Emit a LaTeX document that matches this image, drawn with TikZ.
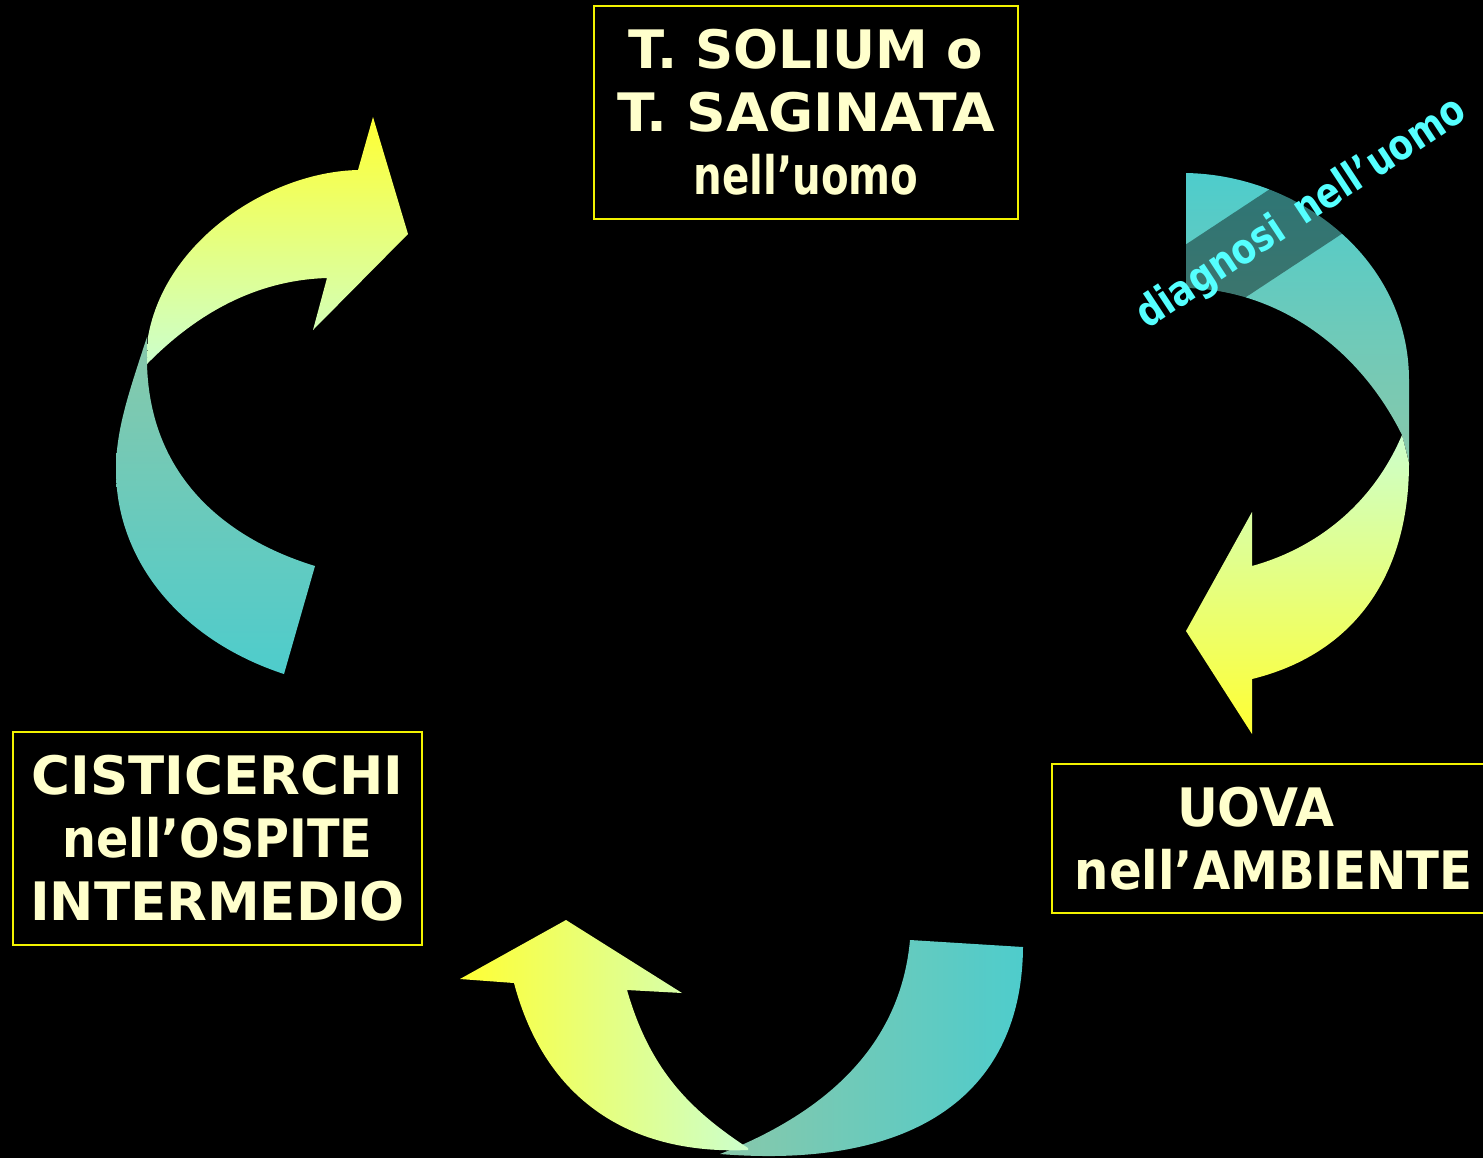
\documentclass[tikz,border=0pt]{standalone}
\usepackage{graphicx}
\usepackage{fontspec}
\setmainfont{DejaVu Sans}
\definecolor{ylw}{HTML}{FFFF33}
\definecolor{mint}{HTML}{CCFFCC}
\definecolor{midteal}{HTML}{88C8AA}
\definecolor{cyn}{HTML}{4ECCCC}
\definecolor{textyellow}{HTML}{FFFFCC}
\definecolor{boxyellow}{HTML}{F2F200}
\definecolor{diagcyan}{HTML}{55FFFF}
\newcommand\bigtxt{\bfseries\fontsize{26.5}{31.5}\selectfont}
\newcommand\diagtxt{\bfseries\fontsize{21}{24}\selectfont}
\newcommand\narrow[2]{\scalebox{#1}[1]{#2}}
\begin{document}
\begin{tikzpicture}[x=0.5pt,y=-0.5pt,
  box/.style={draw=boxyellow, line width=1.25pt, text=textyellow, align=center, font=\bigtxt, inner sep=0pt},
  band/.style={fill=black, fill opacity=0.42, text opacity=1, text=diagcyan, font=\diagtxt, minimum height=38.5pt, inner xsep=4pt, inner ysep=0pt}]
\fill[black] (0,0) rectangle (1483,1158);
\useasboundingbox (0,0) rectangle (1483,1158);

% boxes
\node[box, minimum width=212pt, minimum height=106.5pt] (adult) at (806,112.5)
  {T. SOLIUM o\\\narrow{1.04}{T. SAGINATA}\\\narrow{0.76}{nell’uomo}};
\node[box, minimum width=204.5pt, minimum height=106.5pt] (cyst) at (217.5,838.5)
  {CISTICERCHI\\\narrow{0.9}{nell’OSPITE}\\INTERMEDIO};
\node[box, minimum width=221.5pt, minimum height=74.5pt] (eggs) at (1273.5,838.5)
  {\narrow{0.95}{UOVA}\hspace*{18pt}\\\narrow{0.91}{nell’AMBIENTE}};

% left arrow (cysticerci -> adult)
\shade[top color=midteal, bottom color=cyn]
  (147,337) .. controls (128,395) and (116,430) .. (116,470)
  .. controls (116,560) and (180,640) .. (284,674)
  -- (315,566)
  .. controls (230,540) and (150,480) .. (147,364) -- cycle;
\shade[top color=ylw, bottom color=mint]
  (147,364) .. controls (200,310) and (260,280) .. (327,278)
  -- (313,330) -- (408,234) -- (373,117) -- (358,170)
  .. controls (270,172) and (165,240) .. (148,337) -- cycle;

% right arrow (adult -> eggs)
\shade[top color=cyn, bottom color=midteal]
  (1186,173) .. controls (1300,175) and (1409,260) .. (1409,380)
  -- (1409,462) -- (1402,435)
  .. controls (1360,350) and (1280,290) .. (1186,288) -- cycle;
\shade[top color=mint, bottom color=ylw]
  (1402,435) .. controls (1370,510) and (1310,550) .. (1252,566)
  -- (1252,512) -- (1186,631) -- (1252,734) -- (1252,679)
  .. controls (1350,655) and (1409,580) .. (1409,463) -- cycle;

% bottom arrow (eggs -> cysticerci)
\shade[left color=midteal, right color=cyn]
  (720,1154) .. controls (820,1115) and (900,1050) .. (910,940)
  -- (1023,947)
  .. controls (1022,1090) and (920,1170) .. (720,1154) -- cycle;
\shade[left color=ylw, right color=mint]
  (748,1150) .. controls (630,1155) and (545,1100) .. (514,983)
  -- (460,979) -- (566,920) -- (682,993) -- (627,990)
  .. controls (650,1070) and (690,1110) .. (748,1148) -- cycle;

% label on the right arrow
\node[band, rotate=33.4] (diag) at (1302,214) {\narrow{0.84}{diagnosi\hspace{0.55em}nell’uomo}};
\end{tikzpicture}
\end{document}
